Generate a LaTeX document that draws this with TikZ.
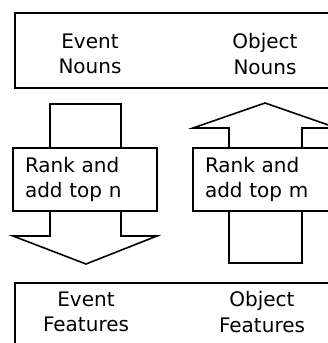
\documentclass[tikz,border=0pt]{standalone}
\usepackage{fontspec}
\setmainfont{DejaVu Sans}
\begin{document}
\begin{tikzpicture}[x=1pt,y=-1pt,line width=1.6pt,
  lbl/.style={align=center,inner sep=0pt,font=\fontsize{20}{25.5}\selectfont},
  rankbox/.style={draw,fill=white,minimum width=144pt,minimum height=63pt,
    text width=120pt,inner xsep=12pt,inner ysep=0pt,align=left,
    font=\fontsize{20}{25.5}\selectfont},
  bigbox/.style={draw,minimum width=325pt,minimum height=75pt,inner sep=0pt},
  blockarrow/.style={draw,fill=white,line join=miter}]
\useasboundingbox (0,0) rectangle (328,343);
\clip (0,0) rectangle (328,343);
% top and bottom boxes
\node[bigbox] (top) at (177.5,50.5) {};
\node[bigbox] (bot) at (177.5,320.5) {};
\node[lbl] (en) at (90,54) {Event\\Nouns};
\node[lbl] (on) at (265,54) {Object\\Nouns};
\node[lbl] (ef) at (86,312) {Event\\Features};
\node[lbl] (of) at (262,312) {Object\\Features};
% down block arrow (left)
\coordinate (dtip) at (86,264);
\draw[blockarrow] (50,104) -- (121,104) -- (121,236) -- (157,236) -- (dtip)
  -- (13,236) -- (50,236) -- cycle;
% up block arrow (right)
\coordinate (utip) at (265,103);
\draw[blockarrow] (229,263) -- (302,263) -- (302,128) -- (337,128) -- (utip)
  -- (193,128) -- (229,128) -- cycle;
% rank boxes
\node[rankbox] (rn) at (85,179.5) {Rank and\\add top n};
\node[rankbox] (rm) at (265,179.5) {Rank and\\add top m};
\end{tikzpicture}
\end{document}
